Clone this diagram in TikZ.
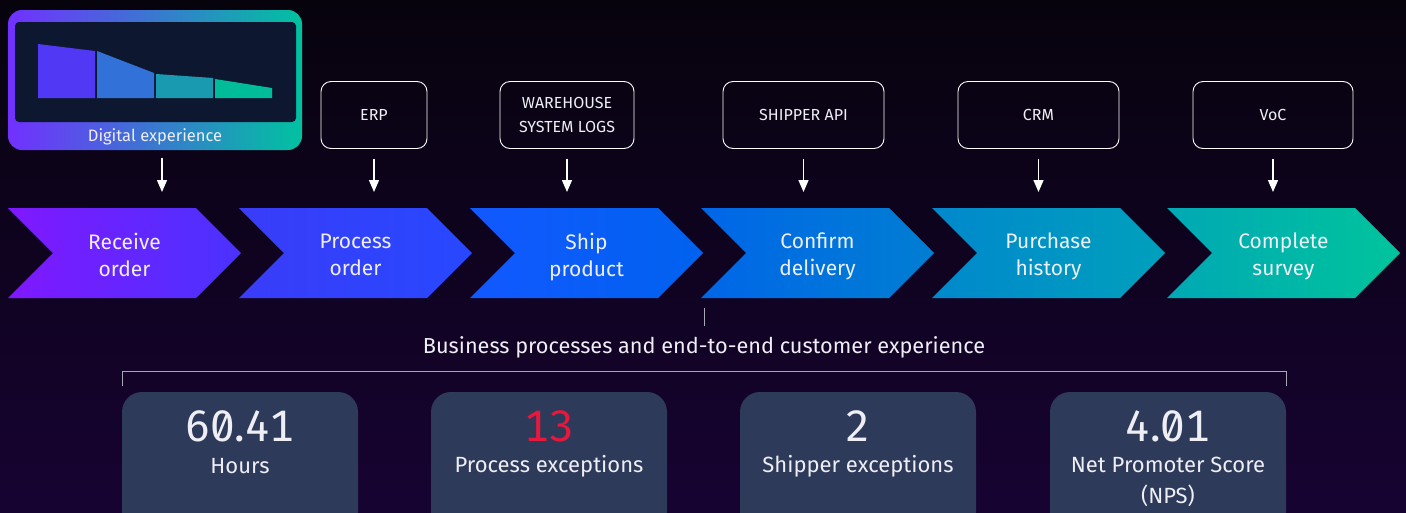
\documentclass[tikz,border=0pt]{standalone}
\usepackage{fontspec}
\setmainfont{Fira Sans}
\usetikzlibrary{arrows.meta,positioning}

\definecolor{bgtop}{HTML}{07030D}
\definecolor{bgbot}{HTML}{170332}
\definecolor{panel}{HTML}{2E3A5A}
\definecolor{inner}{HTML}{0D1830}
\definecolor{alert}{HTML}{E8173C}
\definecolor{rulegray}{HTML}{A8A8B4}
\definecolor{ink}{HTML}{EEEEF4}
\definecolor{cardl}{HTML}{7230FF}
\definecolor{cardm}{HTML}{1E6EFF}
\definecolor{cardr}{HTML}{00C2A0}
% chevron colours, left to right
\definecolor{ca}{HTML}{8018FF}
\definecolor{cb}{HTML}{4A32FF}
\definecolor{cc}{HTML}{3A3CF8}
\definecolor{cd}{HTML}{2748FF}
\definecolor{ce}{HTML}{1258FF}
\definecolor{cf}{HTML}{0062EE}
\definecolor{cg}{HTML}{0066E8}
\definecolor{ch}{HTML}{007ED2}
\definecolor{ci}{HTML}{0088CC}
\definecolor{cj}{HTML}{00A0BC}
\definecolor{ck}{HTML}{00A8B4}
\definecolor{cl}{HTML}{00C49C}
% bars in the card
\definecolor{bara}{HTML}{5038F5}
\definecolor{barb}{HTML}{3272D8}
\definecolor{barc}{HTML}{1A9AB0}
\definecolor{bard}{HTML}{00BC98}

\tikzset{
  srcbox/.style={draw=white, line width=0.9pt, rounded corners=10pt, minimum height=67pt,
    align=center, text=ink, font=\fontsize{16}{24}\selectfont},
  feed/.style={draw=white, line width=1.4pt, -{Triangle[width=10pt,length=12pt]},
    shorten <=10pt, shorten >=16pt},
  steplbl/.style={text=ink, align=center, font=\fontsize{21}{27}\selectfont,
    execute at end node=\strut},
  metric/.style={fill=panel, rounded corners=20pt, minimum width=236pt, minimum height=140pt},
  bignum/.style={text=ink, font=\fontsize{44}{44}\selectfont\addfontfeatures{Numbers={Monospaced,SlashedZero}}},
  numlbl/.style={text=ink, align=center, font=\fontsize{22}{31}\selectfont}
}

\begin{document}
\begin{tikzpicture}[x=1pt,y=-1pt]
  \useasboundingbox (0,0) rectangle (1406,512);
  \shade[top color=bgtop, bottom color=bgbot] (0,0) rectangle (1406,512);

  % digital experience card
  \node[minimum width=294pt, minimum height=140pt, rounded corners=14pt,
    left color=cardl, middle color=cardm, right color=cardr] (digital) at (155,80) {};
  \node[fill=inner, rounded corners=4pt, minimum width=281pt, minimum height=100pt] (screen) at (155.5,72) {};
  \fill[bara] (38,44) -- (95,51) -- (95,98) -- (38,98) -- cycle;
  \fill[barb] (97,51) -- (154,73) -- (154,98) -- (97,98) -- cycle;
  \fill[barc] (156,74) -- (213,78) -- (213,98) -- (156,98) -- cycle;
  \fill[bard] (215,79) -- (272,88) -- (272,98) -- (215,98) -- cycle;
  \node[text=ink, font=\fontsize{16.5}{18}\selectfont] (digitxt) at (155,137) {Digital experience};

  % source systems
  \node[srcbox, minimum width=106pt] (erp) at (374,115) {ERP};
  \node[srcbox, minimum width=134pt] (whs) at (567,115) {WAREHOUSE\\SYSTEM LOGS};
  \node[srcbox, minimum width=161pt] (api) at (803.5,115) {SHIPPER API};
  \node[srcbox, minimum width=161pt] (crm) at (1038.5,115) {CRM};
  \node[srcbox, minimum width=160pt] (voc) at (1273,115) {VoC};

  % chevrons
  \coordinate (lane) at (0,208);
  \foreach \xs/\cleft/\cright/\nm/\txt in {8/ca/cb/recv/Receive\\order, 239/cc/cd/proc/Process\\order,
      470/ce/cf/ship/Ship\\product, 701/cg/ch/conf/Confirm\\delivery,
      932/ci/cj/purc/Purchase\\history, 1167/ck/cl/surv/Complete\\survey}
  {
    \shade[left color=\cleft, right color=\cright] (\xs,208) -- ++(188,0) -- ++(45,45)
      -- ++(-45,45) -- ++(-188,0) -- ++(45,-45) -- cycle;
    \node[steplbl] (\nm) at (\xs+116.5,258.5) {\txt};
  }

  % feeds into the steps
  \draw[feed, shorten <=8pt] (digital.south -| 162,0) -- (162,208);
  \foreach \src in {erp,whs,api,crm,voc}
    \draw[feed] (\src.south) -- (\src.south |- lane);

  % caption and bracket
  \node[text=ink, font=\fontsize{21.7}{24}\selectfont] (bizcap) at (704,347)
    {Business processes and end-to-end customer experience};
  \draw[rulegray, line width=1pt] (704,308) -- (704,326);
  \draw[rulegray, line width=1pt] (122,386) -- (122,371) -- (1286,371) -- (1286,386);

  % metrics
  \node[metric] (hours) at (240,462) {};
  \node[metric] (pexc) at (549,462) {};
  \node[metric] (sexc) at (858,462) {};
  \node[metric] (nps) at (1168,462) {};
  \node[bignum] at (240,426) {60.41};
  \node[bignum, text=alert] at (549,426) {13};
  \node[bignum] at (858,426) {2};
  \node[bignum] at (1168,426) {4.01};
  \node[numlbl] at (240,466) {Hours};
  \node[numlbl] at (549,466) {Process exceptions};
  \node[numlbl] at (858,466) {Shipper exceptions};
  \node[numlbl] at (1168,481.5) {Net Promoter Score\\(NPS)};
\end{tikzpicture}
\end{document}
